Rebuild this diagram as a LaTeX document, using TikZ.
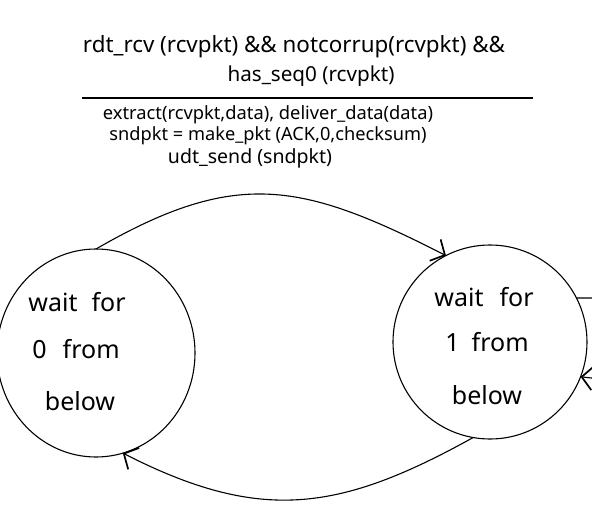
\documentclass[tikz,border=0pt]{standalone}
\usepackage{fontspec}
\setmainfont{Noto Sans}
\usetikzlibrary{arrows.meta,shapes.geometric}
\newcommand\fitw[2]{\resizebox{#1}{!}{#2}}
\tikzset{
  txt/.style={inner sep=0pt, outer sep=0pt, anchor=center},
  stxt/.style={txt, font=\fontsize{25}{30}\selectfont},
  statebox/.style={draw, line width=1.1pt, inner sep=0pt, outer sep=0pt},
  conn/.style={line width=1.1pt},
  arr/.style={conn, -{Straight Barb[length=11pt,width=24pt,line width=1.7pt]}},
}
\begin{document}
\begin{tikzpicture}[x=1pt,y=1pt]
\useasboundingbox (0,0) rectangle (592,-522);
\fill[white] (0,0) rectangle (592,-522);
% guard text
\node[txt] (g1) at (294,-47) {\fitw{422pt}{rdt\_rcv (rcvpkt) \&\& notcorrup(rcvpkt) \&\&}};
\node[txt] (g2) at (311,-76) {\fitw{167pt}{has\_seq0 (rcvpkt)}};
\coordinate (rl) at (82,-98);
\coordinate (rr) at (533,-98);
\draw[line width=1.1pt] (rl) -- (rr);
\node[txt] (a1) at (268,-115) {\fitw{330pt}{extract(rcvpkt,data), deliver\_data(data)}};
\node[txt] (a2) at (268,-136) {\fitw{317pt}{sndpkt = make\_pkt (ACK,0,checksum)}};
\node[txt] (a3) at (250,-158) {\fitw{164pt}{udt\_send (sndpkt)}};
% states
\node[statebox, ellipse, minimum width=198pt, minimum height=208pt] (s0) at (96,-353) {};
\node[statebox, circle, minimum size=194pt] (s1) at (490,-342) {};
\node[stxt] (l0a) at (77,-302) {wait\hspace{14pt}for};
\node[stxt] (l0b) at (76,-349) {0\hspace{16pt}from};
\node[stxt] (l0c) at (80,-401) {below};
\node[stxt] (l1a) at (484,-297) {wait\hspace{16pt}for};
\node[stxt] (l1b) at (487,-342) {1\hspace{12pt}from};
\node[stxt] (l1c) at (487,-395) {below};
% transitions
\draw[arr] (s0.north) to[out=30, in=153, distance=162pt] (s1.117);
\draw[arr] (s1.260) to[out=209, in=333, distance=154pt] (s0.285);
\coordinate (r1) at (600,-298);
\coordinate (r2) at (600,-379);
\draw[conn] (s1.27) -- (r1);
\draw[arr] (r2) -- (s1.-21);
\end{tikzpicture}
\end{document}
